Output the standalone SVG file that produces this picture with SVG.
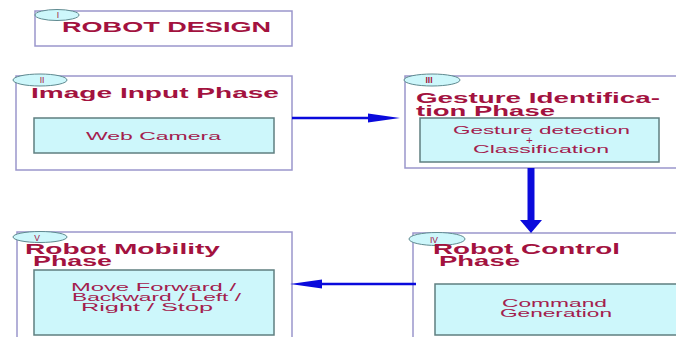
<svg xmlns="http://www.w3.org/2000/svg" width="676" height="337" viewBox="0 0 676 337">
<defs>
<style>
.box{fill:#fff;stroke:#9a96cc;stroke-width:1.5}
.inner{fill:#cdf7fb;stroke:#5f7f80;stroke-width:1.5}
.tag{fill:#cdf7fb;stroke:#5f8a90;stroke-width:1}
.title{font-family:"Liberation Sans",Arial,sans-serif;font-weight:bold;font-size:15px;fill:#a3123f}
.num{font-family:"Liberation Sans",Arial,sans-serif;font-size:8.5px;fill:#a3123f;text-anchor:middle}
.body{font-family:"Liberation Sans",Arial,sans-serif;font-size:11.5px;fill:#a3204d}
</style>
</defs>
<rect width="676" height="337" fill="#fff"/>

<g id="node-I">
<rect class="box" x="35" y="11" width="257" height="35"/>
<ellipse class="tag" cx="57" cy="15" rx="22" ry="5.5"/>
<text class="num" x="58" y="18">I</text>
<text class="title" x="62" y="32" textLength="209" lengthAdjust="spacingAndGlyphs">ROBOT DESIGN</text>
</g>

<g id="node-II">
<rect class="box" x="16" y="76" width="276" height="94"/>
<ellipse class="tag" cx="40" cy="80" rx="27" ry="6"/>
<text class="num" x="42" y="83">II</text>
<text class="title" x="31" y="98" textLength="248" lengthAdjust="spacingAndGlyphs">Image Input Phase</text>
<rect class="inner" x="34" y="118" width="240" height="35"/>
<text class="body" x="86" y="140" textLength="135" lengthAdjust="spacingAndGlyphs">Web Camera</text>
</g>

<g id="node-III">
<rect class="box" x="405" y="76" width="275" height="92"/>
<ellipse class="tag" cx="432" cy="80" rx="28" ry="6"/>
<text class="num" x="429" y="83" font-weight="bold">III</text>
<text class="title" x="416" y="103" textLength="244" lengthAdjust="spacingAndGlyphs">Gesture Identifica-</text>
<text class="title" x="416" y="116" textLength="139" lengthAdjust="spacingAndGlyphs">tion Phase</text>
<rect class="inner" x="420" y="118" width="239" height="44"/>
<text class="body" x="453" y="134" textLength="177" lengthAdjust="spacingAndGlyphs">Gesture detection</text>
<text class="body" x="526" y="144">+</text>
<text class="body" x="473" y="153" textLength="136" lengthAdjust="spacingAndGlyphs">Classification</text>
</g>

<g id="node-IV">
<rect class="box" x="413" y="233" width="270" height="110"/>
<ellipse class="tag" cx="437" cy="239" rx="28" ry="6.5"/>
<text class="num" x="434" y="242.5" font-size="10">IV</text>
<text class="title" x="433" y="254" textLength="187" lengthAdjust="spacingAndGlyphs">Robot Control</text>
<text class="title" x="439" y="266" textLength="81" lengthAdjust="spacingAndGlyphs">Phase</text>
<rect class="inner" x="435" y="284" width="245" height="51"/>
<text class="body" x="502" y="307" textLength="105" lengthAdjust="spacingAndGlyphs">Command</text>
<text class="body" x="500" y="317" textLength="112" lengthAdjust="spacingAndGlyphs">Generation</text>
</g>

<g id="node-V">
<rect class="box" x="17" y="232" width="275" height="110"/>
<ellipse class="tag" cx="40" cy="237" rx="27" ry="5.5"/>
<text class="num" x="37" y="240.5" font-size="10">V</text>
<text class="title" x="25" y="254" textLength="195" lengthAdjust="spacingAndGlyphs">Robot Mobility</text>
<text class="title" x="33" y="266" textLength="79" lengthAdjust="spacingAndGlyphs">Phase</text>
<rect class="inner" x="34" y="270" width="240" height="65"/>
<text class="body" x="71" y="291" textLength="165" lengthAdjust="spacingAndGlyphs">Move Forward /</text>
<text class="body" x="72" y="301" textLength="169" lengthAdjust="spacingAndGlyphs">Backward / Left /</text>
<text class="body" x="81" y="311" textLength="132" lengthAdjust="spacingAndGlyphs">Right / Stop</text>
</g>

<g id="connectors" fill="#0a0adc" stroke="#0a0adc">
<line x1="292" y1="118" x2="370" y2="118" stroke-width="2.5"/>
<path d="M368,113.5 L400,118 L368,122.5 Z" stroke="none"/>
<line x1="416" y1="284" x2="320" y2="284" stroke-width="2.5"/>
<path d="M322,279.5 L290,284 L322,288.5 Z" stroke="none"/>
<line x1="531" y1="168" x2="531" y2="221" stroke-width="7"/>
<path d="M520,220 L542,220 L531,233 Z" stroke="none"/>
</g>
</svg>
